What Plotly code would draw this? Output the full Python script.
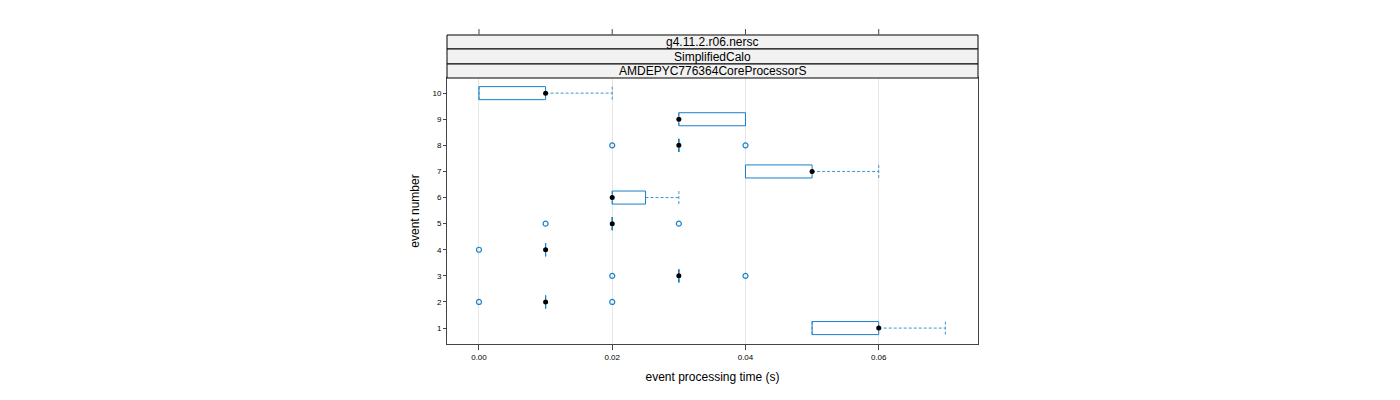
import plotly.graph_objects as go

# ---- data ----
events = [1, 2, 3, 4, 5, 6, 7, 8, 9, 10]
q1 = [0.05, 0.01, 0.03, 0.01, 0.02, 0.02, 0.04, 0.03, 0.03, 0.00]
median = [0.06, 0.01, 0.03, 0.01, 0.02, 0.02, 0.05, 0.03, 0.03, 0.01]
q3 = [0.06, 0.01, 0.03, 0.01, 0.02, 0.025, 0.05, 0.03, 0.04, 0.01]
whisker_lo = [0.05, 0.01, 0.03, 0.01, 0.02, 0.02, 0.04, 0.03, 0.03, 0.00]
whisker_hi = [0.07, 0.01, 0.03, 0.01, 0.02, 0.03, 0.06, 0.03, 0.04, 0.02]
outlier_event = [2, 2, 3, 3, 4, 5, 5, 8, 8]
outlier_time = [0.00, 0.02, 0.02, 0.04, 0.00, 0.01, 0.03, 0.02, 0.04]
x_ticks = [0.00, 0.02, 0.04, 0.06]
x_ticklabels = ["0.00", "0.02", "0.04", "0.06"]
strip_labels = ["g4.11.2.r06.nersc", "SimplifiedCalo", "AMDEPYC776364CoreProcessorS"]

BLUE = "#1a80c8"
HALF = 0.25  # half box height (box.ratio = 1)

# boxes
bx, by = [], []
for e, a, b in zip(events, q1, q3):
    bx += [a, b, b, a, a, None]
    by += [e - HALF, e - HALF, e + HALF, e + HALF, e - HALF, None]

# whiskers + caps
wx, wy = [], []
for e, lo, a, b, hi in zip(events, whisker_lo, q1, q3, whisker_hi):
    wx += [b, hi, None, hi, hi, None, lo, a, None, lo, lo, None]
    wy += [e, e, None, e - HALF, e + HALF, None, e, e, None, e - HALF, e + HALF, None]

fig = go.Figure()
fig.add_trace(go.Scatter(x=wx, y=wy, mode="lines", line=dict(color="#3d95d4", width=1, dash="3px,2px"),
                         hoverinfo="skip", showlegend=False))
fig.add_trace(go.Scatter(x=bx, y=by, mode="lines", line=dict(color=BLUE, width=1),
                         hoverinfo="skip", showlegend=False))
fig.add_trace(go.Scatter(x=outlier_time, y=outlier_event, mode="markers",
                         marker=dict(symbol="circle-open", size=5, color=BLUE, line=dict(width=1.2)),
                         showlegend=False))
fig.add_trace(go.Scatter(x=median, y=events, mode="markers",
                         marker=dict(symbol="circle", size=5, color="black"),
                         showlegend=False))

# strips
strip_edges = [1.1617, 1.1090, 1.0526, 1.0]
shapes = []
annotations = []
for i, lab in enumerate(strip_labels):
    y1 = strip_edges[i]
    y0 = strip_edges[i + 1]
    shapes.append(dict(type="rect", xref="paper", yref="paper", x0=0, x1=1, y0=y0, y1=y1,
                       fillcolor="#f2f2f2", line=dict(color="black", width=1), layer="above"))
    annotations.append(dict(text=lab, xref="paper", yref="paper", x=0.5, y=(y0 + y1) / 2,
                            showarrow=False, font=dict(size=12, color="black"),
                            xanchor="center", yanchor="middle"))
# top ticks (above strips)
for t in x_ticks:
    shapes.append(dict(type="line", xref="x", yref="paper", x0=t, x1=t, y0=1.1635, y1=1.184,
                       line=dict(color="#444444", width=1)))

fig.update_layout(
    width=1400, height=400,
    margin=dict(l=439, r=430, t=70, b=64),
    plot_bgcolor="white", paper_bgcolor="white",
    font=dict(family="Liberation Sans, Arial, sans-serif", color="black"),
    shapes=shapes, annotations=annotations,
    xaxis=dict(range=[-0.0048, 0.0749], tickvals=x_ticks, ticktext=x_ticklabels,
               tickfont=dict(size=8), ticks="outside", ticklen=5, tickcolor="#444444",
               showgrid=True, gridcolor="#e6e6e6", gridwidth=1, zeroline=False,
               showline=True, linecolor="#444444", linewidth=1, mirror=True,
               title=dict(text="event processing time (s)", font=dict(size=12), standoff=12)),
    yaxis=dict(range=[0.39, 10.58], tickvals=events, ticktext=[str(e) for e in events],
               tickfont=dict(size=8), ticks="outside", ticklen=3, tickcolor="#444444",
               showgrid=False, zeroline=False,
               showline=True, linecolor="#444444", linewidth=1, mirror=True,
               title=dict(text="event number", font=dict(size=12), standoff=10)),
)

fig.write_html("out.html")
